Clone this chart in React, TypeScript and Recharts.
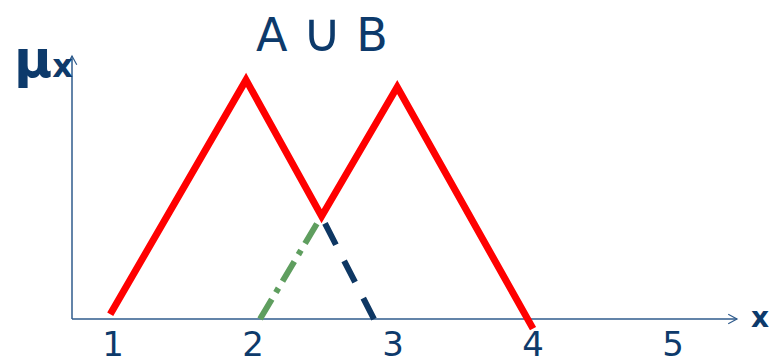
import React from "react";
import { LineChart, Line, XAxis, YAxis, ReferenceLine } from "recharts";

// membership curves (x value, membership degree)
const unionX = [0.98, 1.95, 2.49, 3.03, 4.0];
const unionMu = [0.02, 1.0, 0.43, 0.97, -0.04];
const bTailX = [2.05, 2.457];
const bTailMu = [0, 0.4];
const aTailX = [2.514, 2.864];
const aTailMu = [0.4, 0];
const xTicks = [1, 2, 3, 4, 5];

const X_MIN = 0.707;
const X_MAX = 5.457;
const Y_MIN = -0.05;
const Y_MAX = 1.1;

const TEXT = "#0d3a6b";
const AXIS = "#2f5b8c";
const FONT = "'DejaVu Sans', sans-serif";

const zip = (xs: number[], ys: number[]) => xs.map((x, i) => ({ x, mu: ys[i] }));

const unionData = zip(unionX, unionMu);
const bTailData = zip(bTailX, bTailMu);
const aTailData = zip(aTailX, aTailMu);

// axis line with an open arrow head at its far end
const ArrowLine = (props: any) => {
  const { x1, y1, x2, y2 } = props;
  const ang = Math.atan2(y2 - y1, x2 - x1);
  const len = 10;
  const spread = 0.5;
  const ax = x2 - len * Math.cos(ang - spread);
  const ay = y2 - len * Math.sin(ang - spread);
  const bx = x2 - len * Math.cos(ang + spread);
  const by = y2 - len * Math.sin(ang + spread);
  return (
    <g>
      <line x1={x1} y1={y1} x2={x2} y2={y2} stroke={AXIS} strokeWidth={1.5} />
      <polyline
        points={`${ax},${ay} ${x2},${y2} ${bx},${by}`}
        fill="none"
        stroke={AXIS}
        strokeWidth={1.2}
      />
    </g>
  );
};

const App = () => {
  return (
    <div style={{ position: "absolute", left: 0, top: 0, width: 772, height: 363, background: "#fff" }}>
      <LineChart
        width={772}
        height={363}
        margin={{ top: 56, right: 35, bottom: 0, left: 72 }}
      >
        <XAxis
          type="number"
          dataKey="x"
          domain={[X_MIN, X_MAX]}
          ticks={xTicks}
          axisLine={false}
          tickLine={false}
          tickSize={0}
          tickMargin={1}
          height={32}
          tick={{ fontSize: 34, fill: TEXT, fontFamily: FONT }}
        />
        <YAxis type="number" domain={[Y_MIN, Y_MAX]} hide />
        <ReferenceLine
          segment={[{ x: X_MIN, y: 0 }, { x: X_MAX, y: 0 }]}
          ifOverflow="visible"
          shape={ArrowLine}
        />
        <ReferenceLine
          segment={[{ x: X_MIN, y: 0 }, { x: X_MIN, y: Y_MAX }]}
          ifOverflow="visible"
          shape={ArrowLine}
        />
        <Line
          data={bTailData}
          dataKey="mu"
          type="linear"
          stroke="#5f9e5f"
          strokeWidth={6}
          strokeDasharray="23 8 5 8"
          dot={false}
          activeDot={false}
          isAnimationActive={false}
        />
        <Line
          data={aTailData}
          dataKey="mu"
          type="linear"
          stroke="#0e3763"
          strokeWidth={6}
          strokeDasharray="24 18"
          dot={false}
          activeDot={false}
          isAnimationActive={false}
        />
        <Line
          data={unionData}
          dataKey="mu"
          type="linear"
          stroke="#ff0000"
          strokeWidth={7}
          strokeLinejoin="miter"
          dot={false}
          activeDot={false}
          isAnimationActive={false}
        />
      </LineChart>
      <svg
        width={772}
        height={363}
        style={{ position: "absolute", left: 0, top: 0, pointerEvents: "none" }}
      >
        <text x={322} y={51} textAnchor="middle" fontSize={46} fill={TEXT} fontFamily={FONT}>
          A <tspan fontSize={54}>∪</tspan> B
        </text>
        <text x={14} y={77} fill={TEXT} fontFamily={FONT}>
          <tspan fontSize={52} fontWeight="bold">μ</tspan>
          <tspan fontSize={32} fontWeight="bold">x</tspan>
        </text>
        <text x={751} y={327} fontSize={28} fontWeight="bold" fill={TEXT} fontFamily={FONT}>
          x
        </text>
      </svg>
    </div>
  );
};

export default App;
